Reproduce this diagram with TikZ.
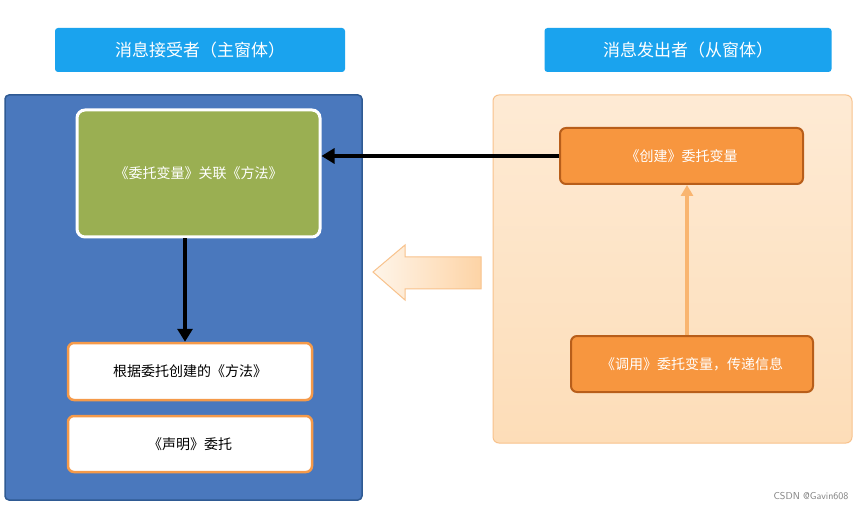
\documentclass[tikz,border=0pt]{standalone}
\usepackage{fontspec}
\setmainfont{Noto Sans CJK SC}
\usetikzlibrary{arrows.meta}
\definecolor{tblue}{HTML}{1AA3EE}
\definecolor{pblue}{HTML}{4A78BD}
\definecolor{pbord}{HTML}{2F5A93}
\definecolor{green1}{HTML}{9AAF52}
\definecolor{obord}{HTML}{F59A4A}
\definecolor{ofill}{HTML}{F7963F}
\definecolor{odark}{HTML}{B85E1A}
\definecolor{peach}{HTML}{FDDDB8}
\definecolor{peachb}{HTML}{F8C28C}
\tikzset{
 title/.style={draw=none,fill=tblue,rounded corners=3pt,text=white,font=\fontsize{17}{20}\selectfont},
 wbox/.style={draw=obord,line width=2.5pt,fill=white,rounded corners=6pt,font=\fontsize{14}{16}\selectfont},
 obox/.style={draw=odark,line width=2pt,fill=ofill,rounded corners=6pt,text=white,font=\fontsize{14}{16}\selectfont},
 blk/.style={-{Triangle[length=13pt,width=15pt]},line width=3.5pt,black}
}
\begin{document}
\begin{tikzpicture}[x=1pt,y=-1pt]
\useasboundingbox (0,0) rectangle (861,510);
\fill[white] (0,0) rectangle (861,510);
\node[title,minimum width=290pt,minimum height=44pt] (t1) at (200,50) {消息接受者（主窗体）};
\node[title,minimum width=287pt,minimum height=44pt] (t2) at (688,50) {消息发出者（从窗体）};
\node[draw=pbord,line width=1.5pt,fill=pblue,rounded corners=4pt,minimum width=357pt,minimum height=405pt] (lp) at (183.5,297.5) {};
\node[draw=peachb,line width=1pt,top color=peach!60,bottom color=peach,rounded corners=6pt,minimum width=359pt,minimum height=348pt] (rp) at (672.5,269) {};
\node[draw=white,line width=3pt,fill=green1,rounded corners=8pt,minimum width=243pt,minimum height=127pt,text=white,font=\fontsize{14}{16}\selectfont] (g) at (198.5,173.5) {《委托变量》关联《方法》};
\node[wbox,minimum width=244pt,minimum height=57pt] (m) at (190,371.5) {根据委托创建的《方法》};
\node[wbox,minimum width=244pt,minimum height=56pt] (d) at (190,444) {《声明》委托};
\node[obox,minimum width=243pt,minimum height=56pt] (c) at (681.5,156) {《创建》委托变量};
\node[obox,minimum width=242pt,minimum height=56pt] (u) at (692,364) {《调用》委托变量，传递信息};
\draw[-{Triangle[length=11pt,width=12pt]},line width=3.5pt,color=peachb!80!orange] (u.north -| 687,0) -- (c.south -| 687,0);
\draw[blk] (c.west) -- (g.east |- c.west);
\draw[blk] (g.south -| 185,0) -- (m.north -| 185,0);
\draw[draw=peachb,line width=1pt,left color=peach!30,right color=peach!90!orange]
 (373,272) -- (405,245) -- (405,257) -- (481,257) -- (481,289) -- (405,289) -- (405,300) -- cycle;
\node[text=gray,font=\fontsize{10}{12}\selectfont\sffamily,anchor=east] (wm) at (852,496) {CSDN @Gavin608};
\end{tikzpicture}
\end{document}
